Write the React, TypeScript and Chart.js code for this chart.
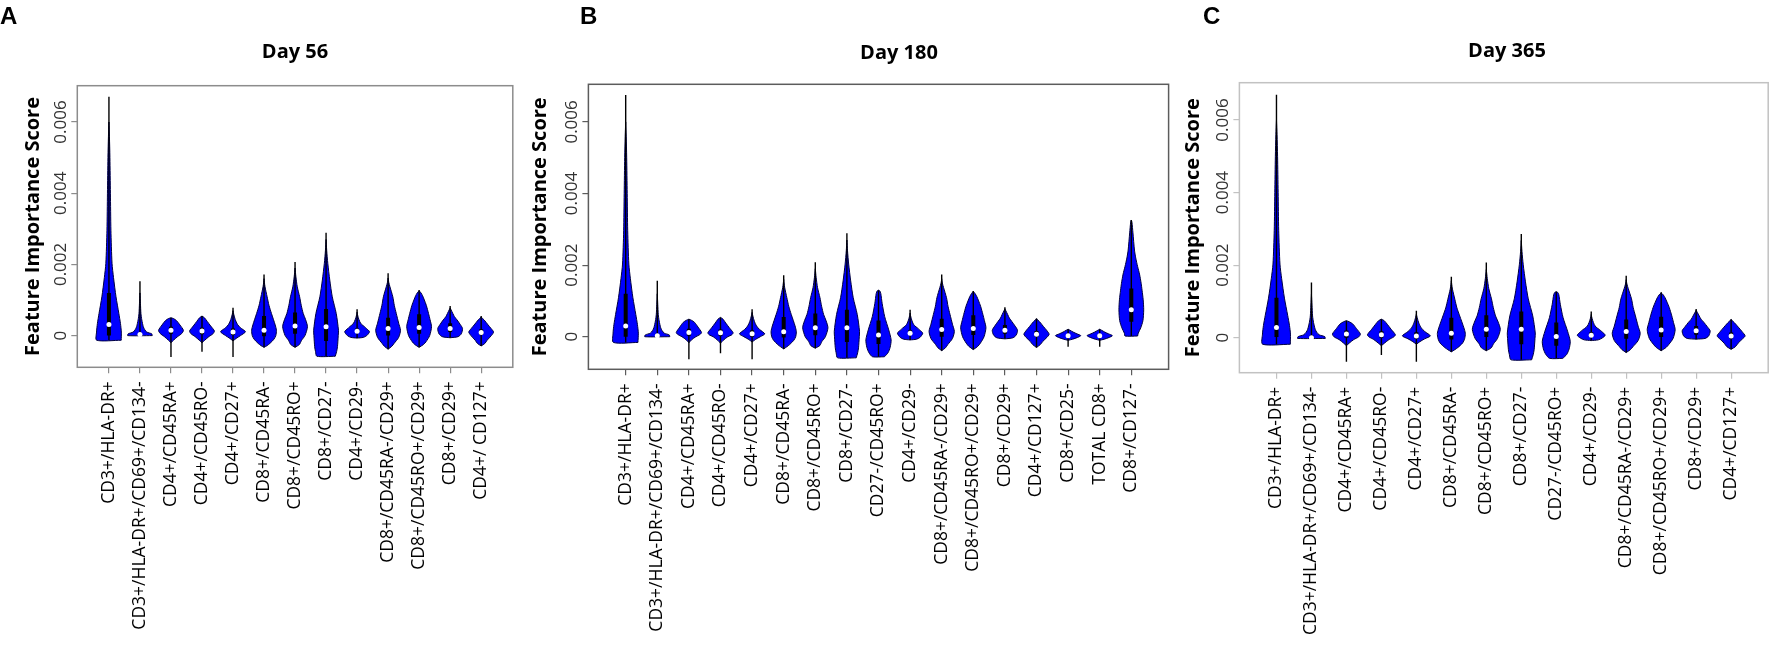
import React, { useEffect, useRef } from 'react';
import { Chart, registerables } from 'chart.js';

Chart.register(...registerables);

// ---------- DATA (scores in units of 1e-3) ----------
const SCORE_UNIT = 1e-3;
const Y_TICKS = [0, 0.002, 0.004, 0.006];
const Y_TICK_LABELS = ['0', '0.002', '0.004', '0.006'];

// Panel A – Day 56
const categoriesA = [
  'CD3+/HLA-DR+', 'CD3+/HLA-DR+/CD69+/CD134-', 'CD4+/CD45RA+', 'CD4+/CD45RO-', 'CD4+/CD27+',
  'CD8+/CD45RA-', 'CD8+/CD45RO+', 'CD8+/CD27-', 'CD4+/CD29-', 'CD8+/CD45RA-/CD29+',
  'CD8+/CD45RO+/CD29+', 'CD8+/CD29+', 'CD4+/ CD127+',
];
const medianA = [0.31, 0.03, 0.15, 0.13, 0.10, 0.15, 0.27, 0.25, 0.12, 0.20, 0.23, 0.20, 0.09];
const q1A = [0.0, 0.0, 0.05, 0.04, 0.02, -0.02, 0.05, -0.15, 0.07, 0.0, 0.05, 0.1, 0.02];
const q3A = [1.2, 0.08, 0.25, 0.22, 0.2, 0.55, 0.65, 0.75, 0.2, 0.5, 0.6, 0.35, 0.18];
const lowA = [-0.13, 0.0, -0.6, -0.45, -0.6, -0.33, -0.33, -0.58, -0.07, -0.38, -0.33, -0.06, -0.29];
const highA = [6.71, 1.53, 0.5, 0.55, 0.78, 1.72, 2.07, 2.89, 0.74, 1.75, 1.28, 0.83, 0.55];
// density profiles: [score, relative half-width]
const densityA: number[][][] = [
  [[-0.13, 0.99], [0.1, 1.0], [0.34, 0.93], [0.62, 0.8], [1.09, 0.57], [1.63, 0.37], [2.03, 0.25], [2.96, 0.16], [4.0, 0.12], [5.0, 0.08], [5.6, 0.04], [6.0, 0]],
  [[0.0, 0.99], [0.05, 0.95], [0.1, 0.55], [0.17, 0.38], [0.25, 0.27], [0.44, 0.15], [0.62, 0.08], [0.9, 0.04], [1.2, 0]],
  [[-0.2, 0], [-0.13, 0.2], [-0.03, 0.53], [0.06, 0.87], [0.15, 1.0], [0.3, 0.72], [0.42, 0.45], [0.48, 0.2], [0.5, 0]],
  [[-0.2, 0], [-0.13, 0.22], [-0.03, 0.55], [0.05, 0.88], [0.13, 1.0], [0.27, 0.7], [0.4, 0.42], [0.5, 0.2], [0.55, 0]],
  [[-0.15, 0], [-0.08, 0.25], [0.0, 0.6], [0.11, 1.0], [0.22, 0.6], [0.32, 0.35], [0.45, 0.18], [0.6, 0.06], [0.7, 0]],
  [[-0.33, 0], [-0.28, 0.25], [-0.22, 0.47], [-0.1, 0.8], [0.0, 0.95], [0.15, 1.0], [0.3, 0.9], [0.62, 0.6], [0.85, 0.4], [1.09, 0.25], [1.37, 0.08], [1.5, 0.03], [1.6, 0]],
  [[-0.33, 0], [-0.25, 0.35], [-0.13, 0.53], [0.0, 0.8], [0.25, 1.0], [0.45, 0.85], [0.62, 0.66], [0.85, 0.5], [1.09, 0.37], [1.37, 0.18], [1.65, 0.07], [1.9, 0]],
  [[-0.58, 0.74], [-0.45, 0.85], [-0.31, 0.92], [0.0, 0.98], [0.15, 1.0], [0.62, 0.82], [1.09, 0.5], [1.56, 0.3], [2.03, 0.14], [2.4, 0.05], [2.7, 0]],
  [[-0.07, 0], [-0.05, 0.5], [0.0, 0.78], [0.11, 1.0], [0.2, 0.75], [0.25, 0.6], [0.32, 0.35], [0.39, 0.22], [0.5, 0.1], [0.6, 0.03], [0.66, 0]],
  [[-0.38, 0], [-0.3, 0.3], [-0.22, 0.48], [-0.05, 0.85], [0.15, 1.0], [0.35, 0.85], [0.62, 0.66], [0.85, 0.5], [1.09, 0.38], [1.37, 0.15], [1.5, 0.05], [1.62, 0]],
  [[-0.33, 0], [-0.25, 0.35], [-0.17, 0.56], [0.0, 0.85], [0.25, 1.0], [0.45, 0.88], [0.62, 0.76], [0.85, 0.58], [1.0, 0.42], [1.12, 0.28], [1.2, 0.15], [1.26, 0]],
  [[-0.06, 0], [-0.03, 0.64], [0.05, 0.9], [0.2, 1.0], [0.32, 0.8], [0.44, 0.56], [0.53, 0.35], [0.62, 0.22], [0.72, 0.08], [0.78, 0]],
  [[-0.29, 0], [-0.22, 0.3], [-0.13, 0.48], [0.0, 0.82], [0.1, 1.0], [0.2, 0.8], [0.3, 0.56], [0.44, 0.24], [0.52, 0]],
];

// Panel B – Day 180
const categoriesB = [
  'CD3+/HLA-DR+', 'CD3+/HLA-DR+/CD69+/CD134-', 'CD4+/CD45RA+', 'CD4+/CD45RO-', 'CD4+/CD27+',
  'CD8+/CD45RA-', 'CD8+/CD45RO+', 'CD8+/CD27-', 'CD27-/CD45RO+', 'CD4+/CD29-',
  'CD8+/CD45RA-/CD29+', 'CD8+/CD45RO+/CD29+', 'CD8+/CD29+', 'CD4+/CD127+', 'CD8+/CD25-',
  'TOTAL CD8+', 'CD8+/CD127-',
];
const medianB = [0.3, 0.03, 0.12, 0.11, 0.08, 0.14, 0.25, 0.25, 0.05, 0.1, 0.2, 0.23, 0.18, 0.07, 0.03, 0.03, 0.75];
const q1B = [0.0, 0.0, 0.03, 0.03, 0.0, -0.02, 0.04, -0.15, -0.2, 0.05, 0.0, 0.05, 0.08, 0.0, 0.0, 0.0, 0.42];
const q3B = [1.2, 0.08, 0.22, 0.2, 0.18, 0.55, 0.65, 0.75, 0.45, 0.18, 0.5, 0.6, 0.33, 0.16, 0.07, 0.07, 1.35];
const lowB = [-0.16, 0.0, -0.63, -0.46, -0.63, -0.34, -0.32, -0.59, -0.56, -0.09, -0.39, -0.36, -0.06, -0.3, -0.28, -0.28, 0.02];
const highB = [6.75, 1.56, 0.49, 0.54, 0.77, 1.72, 2.08, 2.89, 1.3, 0.75, 1.74, 1.28, 0.82, 0.51, 0.21, 0.21, 3.26];
const densityB: number[][][] = [
  [[-0.16, 0.97], [0.1, 1.0], [0.34, 0.93], [0.62, 0.8], [1.09, 0.57], [1.63, 0.37], [2.03, 0.25], [2.96, 0.16], [4.0, 0.12], [5.0, 0.08], [5.6, 0.04], [6.0, 0]],
  [[0.0, 0.99], [0.05, 0.95], [0.1, 0.55], [0.17, 0.38], [0.25, 0.27], [0.44, 0.15], [0.62, 0.08], [0.9, 0.04], [1.2, 0]],
  [[-0.17, 0], [-0.09, 0.2], [0.0, 0.55], [0.06, 0.87], [0.12, 1.0], [0.27, 0.72], [0.4, 0.45], [0.46, 0.2], [0.49, 0]],
  [[-0.18, 0], [-0.1, 0.22], [0.0, 0.58], [0.05, 0.88], [0.11, 1.0], [0.25, 0.7], [0.38, 0.42], [0.49, 0.2], [0.54, 0]],
  [[-0.15, 0], [-0.08, 0.25], [0.0, 0.65], [0.08, 1.0], [0.2, 0.6], [0.3, 0.35], [0.43, 0.18], [0.58, 0.06], [0.68, 0]],
  [[-0.34, 0], [-0.28, 0.25], [-0.22, 0.47], [-0.1, 0.8], [0.0, 0.95], [0.14, 1.0], [0.3, 0.9], [0.62, 0.6], [0.85, 0.4], [1.09, 0.25], [1.37, 0.08], [1.5, 0.03], [1.6, 0]],
  [[-0.32, 0], [-0.25, 0.35], [-0.13, 0.53], [0.0, 0.8], [0.25, 1.0], [0.45, 0.85], [0.62, 0.66], [0.85, 0.5], [1.09, 0.37], [1.37, 0.18], [1.65, 0.07], [1.9, 0]],
  [[-0.59, 0.74], [-0.45, 0.85], [-0.31, 0.92], [0.0, 0.98], [0.15, 1.0], [0.62, 0.82], [1.09, 0.5], [1.56, 0.3], [2.03, 0.14], [2.4, 0.05], [2.7, 0]],
  [[-0.56, 0.47], [-0.45, 0.75], [-0.3, 0.92], [-0.09, 1.0], [0.19, 0.81], [0.56, 0.49], [0.93, 0.29], [1.21, 0.18], [1.28, 0.1], [1.3, 0]],
  [[-0.09, 0], [-0.07, 0.5], [-0.02, 0.78], [0.1, 1.0], [0.19, 0.75], [0.24, 0.6], [0.31, 0.35], [0.38, 0.22], [0.5, 0.1], [0.6, 0.03], [0.66, 0]],
  [[-0.39, 0], [-0.31, 0.3], [-0.22, 0.48], [-0.05, 0.85], [0.15, 1.0], [0.35, 0.85], [0.62, 0.66], [0.85, 0.5], [1.09, 0.38], [1.37, 0.15], [1.5, 0.05], [1.62, 0]],
  [[-0.36, 0], [-0.27, 0.35], [-0.18, 0.56], [0.0, 0.85], [0.25, 1.0], [0.45, 0.88], [0.62, 0.76], [0.85, 0.58], [1.0, 0.42], [1.12, 0.28], [1.2, 0.15], [1.27, 0]],
  [[-0.06, 0], [-0.03, 0.64], [0.05, 0.9], [0.18, 1.0], [0.3, 0.8], [0.42, 0.56], [0.52, 0.35], [0.62, 0.22], [0.72, 0.08], [0.78, 0]],
  [[-0.3, 0], [-0.22, 0.3], [-0.13, 0.5], [-0.02, 0.82], [0.07, 1.0], [0.18, 0.8], [0.28, 0.56], [0.42, 0.24], [0.5, 0]],
  [[-0.1, 0], [-0.07, 0.35], [-0.02, 0.75], [0.03, 1.0], [0.08, 0.7], [0.13, 0.4], [0.18, 0.15], [0.21, 0]],
  [[-0.1, 0], [-0.07, 0.35], [-0.02, 0.75], [0.03, 1.0], [0.08, 0.7], [0.13, 0.4], [0.18, 0.15], [0.21, 0]],
  [[0.02, 0.5], [0.1, 0.55], [0.25, 0.75], [0.45, 0.92], [0.75, 0.98], [1.03, 0.94], [1.3, 0.85], [1.49, 0.78], [1.75, 0.65], [1.96, 0.5], [2.2, 0.35], [2.42, 0.25], [2.9, 0.13], [3.2, 0.05], [3.26, 0]],
];

// Panel C – Day 365
const categoriesC = [
  'CD3+/HLA-DR+', 'CD3+/HLA-DR+/CD69+/CD134-', 'CD4+/CD45RA+', 'CD4+/CD45RO-', 'CD4+/CD27+',
  'CD8+/CD45RA-', 'CD8+/CD45RO+', 'CD8+/CD27-', 'CD27-/CD45RO+', 'CD4+/CD29-',
  'CD8+/CD45RA-/CD29+', 'CD8+/CD45RO+/CD29+', 'CD8+/CD29+', 'CD4+/CD127+',
];
const medianC = [0.28, 0.0, 0.1, 0.08, 0.05, 0.12, 0.23, 0.23, 0.03, 0.07, 0.17, 0.21, 0.19, 0.05];
const q1C = [0.02, -0.01, 0.0, 0.0, -0.03, -0.05, 0.02, -0.18, -0.22, 0.03, -0.03, 0.02, 0.08, -0.02];
const q3C = [1.1, 0.06, 0.2, 0.18, 0.15, 0.55, 0.62, 0.72, 0.42, 0.15, 0.5, 0.58, 0.32, 0.14];
const lowC = [-0.18, -0.02, -0.66, -0.48, -0.66, -0.39, -0.36, -0.61, -0.57, -0.08, -0.41, -0.36, -0.04, -0.32];
const highC = [6.7, 1.52, 0.47, 0.51, 0.74, 1.68, 2.07, 2.86, 1.27, 0.72, 1.71, 1.25, 0.79, 0.51];
const densityC: number[][][] = [
  [[-0.18, 0.99], [0.1, 1.0], [0.34, 0.93], [0.62, 0.8], [1.09, 0.57], [1.63, 0.37], [2.03, 0.25], [2.96, 0.16], [4.0, 0.12], [5.0, 0.08], [5.6, 0.04], [6.0, 0]],
  [[-0.02, 0.99], [0.03, 0.95], [0.08, 0.55], [0.15, 0.38], [0.23, 0.27], [0.42, 0.15], [0.6, 0.08], [0.9, 0.04], [1.2, 0]],
  [[-0.22, 0], [-0.15, 0.2], [-0.05, 0.53], [0.02, 0.87], [0.1, 1.0], [0.25, 0.72], [0.38, 0.45], [0.44, 0.2], [0.47, 0]],
  [[-0.22, 0], [-0.15, 0.22], [-0.05, 0.55], [0.02, 0.88], [0.08, 1.0], [0.23, 0.7], [0.37, 0.42], [0.47, 0.2], [0.51, 0]],
  [[-0.18, 0], [-0.11, 0.25], [-0.03, 0.6], [0.05, 1.0], [0.17, 0.6], [0.27, 0.35], [0.4, 0.18], [0.55, 0.06], [0.65, 0]],
  [[-0.39, 0], [-0.33, 0.25], [-0.27, 0.47], [-0.15, 0.8], [-0.03, 0.95], [0.12, 1.0], [0.27, 0.9], [0.6, 0.6], [0.82, 0.4], [1.06, 0.25], [1.34, 0.08], [1.47, 0.03], [1.57, 0]],
  [[-0.36, 0], [-0.28, 0.35], [-0.16, 0.53], [-0.02, 0.8], [0.23, 1.0], [0.43, 0.85], [0.6, 0.66], [0.83, 0.5], [1.07, 0.37], [1.35, 0.18], [1.63, 0.07], [1.88, 0]],
  [[-0.61, 0.74], [-0.47, 0.85], [-0.33, 0.92], [-0.02, 0.98], [0.13, 1.0], [0.6, 0.82], [1.07, 0.5], [1.54, 0.3], [2.01, 0.14], [2.38, 0.05], [2.68, 0]],
  [[-0.57, 0.47], [-0.46, 0.75], [-0.31, 0.92], [-0.1, 1.0], [0.18, 0.81], [0.55, 0.49], [0.92, 0.29], [1.19, 0.18], [1.25, 0.1], [1.27, 0]],
  [[-0.08, 0], [-0.06, 0.5], [-0.01, 0.78], [0.07, 1.0], [0.17, 0.75], [0.22, 0.6], [0.29, 0.35], [0.36, 0.22], [0.48, 0.1], [0.58, 0.03], [0.64, 0]],
  [[-0.41, 0], [-0.33, 0.3], [-0.25, 0.48], [-0.08, 0.85], [0.12, 1.0], [0.32, 0.85], [0.6, 0.66], [0.83, 0.5], [1.07, 0.38], [1.35, 0.15], [1.48, 0.05], [1.6, 0]],
  [[-0.36, 0], [-0.27, 0.35], [-0.18, 0.56], [-0.02, 0.85], [0.22, 1.0], [0.42, 0.88], [0.6, 0.76], [0.83, 0.58], [0.98, 0.42], [1.1, 0.28], [1.18, 0.15], [1.24, 0]],
  [[-0.04, 0], [-0.02, 0.64], [0.05, 0.9], [0.19, 1.0], [0.3, 0.8], [0.42, 0.56], [0.51, 0.35], [0.6, 0.22], [0.7, 0.08], [0.76, 0]],
  [[-0.32, 0], [-0.25, 0.3], [-0.15, 0.5], [-0.03, 0.82], [0.05, 1.0], [0.16, 0.8], [0.27, 0.56], [0.41, 0.24], [0.5, 0]],
];

// ---------- STYLE / LAYOUT ----------
const PAGE_W = 1781;
const PAGE_H = 655;
const VIOLIN_HALF = 0.4; // max half-width in category units
const VIOLIN_BLUE = '#0000ff';
const VIOLIN_EDGE = '#000040';
const LABEL_FONT = '"Open Sans", "DejaVu Sans", sans-serif';

type PanelSpec = {
  letter: string; title: string;
  categories: string[]; density: number[][][];
  median: number[]; q1: number[]; q3: number[]; low: number[]; high: number[];
  canvasLeft: number; canvasWidth: number;
  boxLeft: number; boxRight: number; boxTop: number; boxBottom: number;
  yMin: number; yMax: number;
  boxColor: string;
  titleX: number; titleBase: number; letterX: number;
  yTitleOffset: number;
};

const panels: PanelSpec[] = [
  {
    letter: 'A', title: 'Day 56', categories: categoriesA, density: densityA,
    median: medianA, q1: q1A, q3: q3A, low: lowA, high: highA,
    canvasLeft: 0, canvasWidth: 540,
    boxLeft: 77.3, boxRight: 512.8, boxTop: 85.7, boxBottom: 367.3,
    yMin: -0.89, yMax: 7.02, boxColor: '#8c8c8c',
    titleX: 295, titleBase: 57.5, letterX: 0, yTitleOffset: 44,
  },
  {
    letter: 'B', title: 'Day 180', categories: categoriesB, density: densityB,
    median: medianB, q1: q1B, q3: q3B, low: lowB, high: highB,
    canvasLeft: 520, canvasWidth: 660,
    boxLeft: 588.4, boxRight: 1168.6, boxTop: 84.3, boxBottom: 369.3,
    yMin: -0.91, yMax: 7.05, boxColor: '#5c5c5c',
    titleX: 899, titleBase: 59, letterX: 580, yTitleOffset: 48,
  },
  {
    letter: 'C', title: 'Day 365', categories: categoriesC, density: densityC,
    median: medianC, q1: q1C, q3: q3C, low: lowC, high: highC,
    canvasLeft: 1170, canvasWidth: 611,
    boxLeft: 1239.4, boxRight: 1768.2, boxTop: 82.7, boxBottom: 372.7,
    yMin: -0.965, yMax: 7.03, boxColor: '#c2c2c2',
    titleX: 1507, titleBase: 57, letterX: 1203, yTitleOffset: 46,
  },
];

function buildDatasets(p: PanelSpec) {
  const ds: any[] = [];
  p.density.forEach((prof, i) => {
    const c = i + 1;
    const right = prof.map(([v, w]) => ({ x: c + w * VIOLIN_HALF, y: v * SCORE_UNIT }));
    const left = prof.slice().reverse().map(([v, w]) => ({ x: c - w * VIOLIN_HALF, y: v * SCORE_UNIT }));
    const pts = right.concat(left);
    if (prof[0][1] > 0) pts.push(right[0]);
    ds.push({
      data: pts, showLine: true, fill: 'shape', backgroundColor: VIOLIN_BLUE,
      borderColor: VIOLIN_EDGE, borderWidth: 1, pointRadius: 0, tension: 0.25, order: 4,
    });
    ds.push({
      data: [{ x: c, y: p.low[i] * SCORE_UNIT }, { x: c, y: p.high[i] * SCORE_UNIT }],
      showLine: true, fill: false, borderColor: '#000', borderWidth: 1.4, pointRadius: 0, order: 3,
    });
    ds.push({
      data: [{ x: c, y: p.q1[i] * SCORE_UNIT }, { x: c, y: p.q3[i] * SCORE_UNIT }],
      showLine: true, fill: false, borderColor: '#000', borderWidth: 4, borderCapStyle: 'butt',
      pointRadius: 0, order: 2,
    });
  });
  ds.push({
    data: p.median.map((m, i) => ({ x: i + 1, y: m * SCORE_UNIT })),
    showLine: false, pointRadius: 2.5, pointBackgroundColor: '#ffffff', pointBorderWidth: 0, order: 1,
  });
  return ds;
}

function PanelChart({ p }: { p: PanelSpec }) {
  const ref = useRef<HTMLCanvasElement>(null);
  useEffect(() => {
    const n = p.categories.length;
    const ext = 0.04 * n;
    const decor = {
      id: 'decor' + p.letter,
      afterDraw(chart: any) {
        const { ctx, chartArea: a, scales } = chart;
        const ys = scales.y;
        ctx.save();
        ctx.strokeStyle = p.boxColor;
        ctx.lineWidth = 1.5;
        ctx.strokeRect(a.left, a.top, a.right - a.left, a.bottom - a.top);
        // y tick labels (rotated, as in R)
        ctx.fillStyle = '#333';
        ctx.font = `17px ${LABEL_FONT}`;
        ctx.textAlign = 'center';
        ctx.textBaseline = 'middle';
        Y_TICKS.forEach((v, k) => {
          const py = ys.getPixelForValue(v);
          ctx.save();
          ctx.translate(a.left - 16, py);
          ctx.rotate(-Math.PI / 2);
          ctx.fillText(Y_TICK_LABELS[k], 0, 0);
          ctx.restore();
        });
        // y title
        ctx.fillStyle = '#000';
        ctx.font = `bold 20px ${LABEL_FONT}`;
        ctx.save();
        ctx.translate(a.left - p.yTitleOffset, (a.top + a.bottom) / 2);
        ctx.rotate(-Math.PI / 2);
        ctx.fillText('Feature Importance Score', 0, 0);
        ctx.restore();
        // panel title
        ctx.textBaseline = 'alphabetic';
        ctx.font = `bold 20px ${LABEL_FONT}`;
        ctx.fillText(p.title, p.titleX - p.canvasLeft, p.titleBase);
        // panel letter
        ctx.textAlign = 'left';
        ctx.font = 'bold 24px "Liberation Sans", Arial, sans-serif';
        ctx.fillText(p.letter, p.letterX - p.canvasLeft, 23.5);
        ctx.restore();
      },
    };
    const chart = new Chart(ref.current as HTMLCanvasElement, {
      type: 'scatter',
      data: { datasets: buildDatasets(p) },
      options: {
        animation: false,
        responsive: false,
        events: [],
        layout: {
          padding: {
            left: 0,
            right: p.canvasLeft + p.canvasWidth - p.boxRight,
            top: p.boxTop,
            bottom: 0,
          },
        },
        plugins: { legend: { display: false }, tooltip: { enabled: false }, title: { display: false } },
        scales: {
          x: {
            type: 'linear',
            bounds: 'data',
            min: 0.5 - ext,
            max: n + 0.5 + ext,
            afterBuildTicks: (s: any) => { s.ticks = p.categories.map((_, i) => ({ value: i + 1 })); },
            afterFit: (s: any) => { s.height = PAGE_H - p.boxBottom; },
            grid: { drawOnChartArea: false, drawTicks: true, tickLength: 6, color: p.boxColor, lineWidth: 1.2 },
            border: { display: false },
            ticks: {
              autoSkip: false, minRotation: 90, maxRotation: 90, padding: 8, color: '#000',
              font: { family: LABEL_FONT, size: 17.5 },
              callback: (v: any) => p.categories[Math.round(Number(v)) - 1] ?? '',
            },
          },
          y: {
            type: 'linear',
            bounds: 'data',
            min: p.yMin * SCORE_UNIT,
            max: p.yMax * SCORE_UNIT,
            afterBuildTicks: (s: any) => { s.ticks = Y_TICKS.map((v) => ({ value: v })); },
            afterFit: (s: any) => { s.width = p.boxLeft - p.canvasLeft; },
            grid: { drawOnChartArea: false, drawTicks: true, tickLength: 6, color: p.boxColor, lineWidth: 1.2 },
            border: { display: false },
            ticks: { display: false },
          },
        },
      } as any,
      plugins: [decor],
    });
    return () => chart.destroy();
  }, [p]);
  return (
    <canvas
      ref={ref}
      width={p.canvasWidth}
      height={PAGE_H}
      style={{ position: 'absolute', left: p.canvasLeft, top: 0, width: p.canvasWidth, height: PAGE_H }}
    />
  );
}

export default function App() {
  return (
    <div style={{ position: 'absolute', left: 0, top: 0, width: PAGE_W, height: PAGE_H, overflow: 'hidden', background: '#fff' }}>
      {panels.map((p) => <PanelChart key={p.letter} p={p} />)}
    </div>
  );
}
